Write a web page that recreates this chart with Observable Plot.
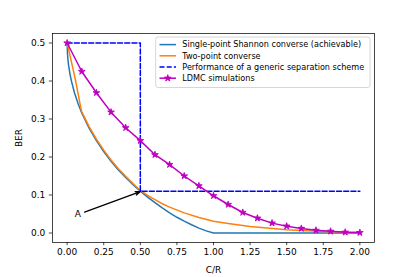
<!DOCTYPE html>
<html><head><meta charset="utf-8">
<script src="https://cdn.jsdelivr.net/npm/d3@7"></script>
<script src="https://cdn.jsdelivr.net/npm/@observablehq/plot@0.6"></script>
<style>
body{margin:0;background:#fff;}
#wrap{position:relative;width:415px;height:277px;font-family:"DejaVu Sans",sans-serif;}
#legend{position:absolute;left:0;top:0;pointer-events:none;}
</style></head><body><div id="wrap"></div>
<script>
// Data
const shannonX = [0,0.0025,0.005,0.01,0.02,0.03,0.05,0.075,0.1,0.15,0.2,0.25,0.3,0.35,0.4,0.45,0.5,0.55,0.6,0.65,0.7,0.75,0.8,0.85,0.9,0.95,1.0,1.5,2.0];
const shannonY = [0.5,0.471,0.458,0.441,0.417,0.399,0.369,0.34,0.316,0.276,0.243,0.2145,0.189,0.166,0.146,0.127,0.110,0.0946,0.0797,0.0659,0.0532,0.0414,0.0311,0.0216,0.0129,0.0056,0,0,0];
const twoPointX = [0,0.02,0.04,0.06,0.08,0.095,0.1,0.15,0.2,0.25,0.3,0.35,0.4,0.45,0.5,0.55,0.6,0.65,0.7,0.8,0.9,1.0,1.1,1.25,1.5,1.75,2.0];
const twoPointY = [0.5,0.466,0.432,0.396,0.356,0.326,0.319,0.28,0.247,0.218,0.192,0.169,0.149,0.13,0.112,0.099,0.088,0.077,0.068,0.053,0.041,0.031,0.025,0.017,0.0085,0.004,0.001];
const sepX = [0,0.5,0.5,2.0];
const sepY = [0.5,0.5,0.11,0.11];
const ldmcX = [0,0.1,0.2,0.3,0.4,0.5,0.6,0.7,0.8,0.9,1.0,1.1,1.2,1.3,1.4,1.5,1.6,1.7,1.8,1.9,2.0];
const ldmcY = [0.5,0.425,0.369,0.318,0.277,0.243,0.206,0.18,0.15,0.124,0.098,0.075,0.054,0.039,0.026,0.018,0.012,0.007,0.0045,0.002,0.001];
const seriesNames = ["Single-point Shannon converse (achievable)","Two-point converse","Performance of a generic separation scheme","LDMC simulations"];
const xTicks = [0,0.25,0.5,0.75,1.0,1.25,1.5,1.75,2.0];
const yTicks = [0,0.1,0.2,0.3,0.4,0.5];
const annLabel = ["A"];
const annTextX = [0.073], annTextY = [0.049];
const annFromX = [0.119], annFromY = [0.055];
const annToX = [0.5], annToY = [0.109];

const C0 = "#1f77b4", C1 = "#ff7f0e", CB = "#0000ff", CM = "#bf00bf";
const toRows = (xs, ys) => xs.map((x, i) => ({x, y: ys[i]}));
const shannon = toRows(shannonX, shannonY);
const twoPoint = toRows(twoPointX, twoPointY);
const sep = toRows(sepX, sepY);
const ldmc = toRows(ldmcX, ldmcY);
const ann = annLabel.map((t, i) => ({t, x: annTextX[i], y: annTextY[i], x1: annFromX[i], y1: annFromY[i], x2: annToX[i], y2: annToY[i]}));

const LW = 1.5;
const chart = Plot.plot({
  width: 415, height: 277,
  marginLeft: 52, marginRight: 41, marginTop: 33, marginBottom: 35,
  style: {fontFamily: "DejaVu Sans, sans-serif", fontSize: "9px", background: "#fff", color: "#000"},
  x: {domain: [-0.1, 2.1]},
  y: {domain: [-0.025, 0.525]},
  marks: [
    Plot.axisX({ticks: xTicks, tickFormat: d3.format(".2f"), tickSize: 3.15, tickPadding: 2.5, strokeWidth: 0.72,
      label: "C/R", labelAnchor: "center", labelArrow: "none", labelOffset: 30, fontSize: 9}),
    Plot.axisY({ticks: yTicks, tickFormat: d3.format(".1f"), tickSize: 3.15, tickPadding: 4, strokeWidth: 0.72,
      label: "BER", labelAnchor: "center", labelArrow: "none", labelOffset: 37, fontSize: 9}),
    Plot.line(shannon, {x: "x", y: "y", stroke: C0, strokeWidth: LW}),
    Plot.line(twoPoint, {x: "x", y: "y", stroke: C1, strokeWidth: LW}),
    Plot.line(sep, {x: "x", y: "y", stroke: CB, strokeWidth: LW, strokeDasharray: "5,2.2"}),
    Plot.line(ldmc, {x: "x", y: "y", stroke: CM, strokeWidth: LW}),
    Plot.dot(ldmc, {x: "x", y: "y", symbol: "star", r: 2.1, fill: CM, stroke: CM, strokeWidth: 0.9}),
    Plot.arrow(ann, {x1: "x1", y1: "y1", x2: "x2", y2: "y2", stroke: "#000", strokeWidth: 1.3, headLength: 6, headAngle: 40}),
    Plot.text(ann, {x: "x", y: "y", text: "t", fill: "#000", fontSize: 9}),
    Plot.frame({stroke: "#000", strokeWidth: 0.72})
  ]
});
const wrap = document.getElementById("wrap");
wrap.appendChild(chart);

// Legend overlay (inside axes, upper right)
const lg = d3.select(wrap).append("svg").attr("id", "legend").attr("width", 415).attr("height", 277);
lg.append("rect").attr("x", 155.7).attr("y", 37).attr("width", 214.3).attr("height", 50.5)
  .attr("rx", 2.5).attr("fill", "#fff").attr("fill-opacity", 0.8).attr("stroke", "#cccccc").attr("stroke-width", 0.8);
const legendColors = [C0, C1, CB, CM];
const legendDash = [null, null, "5,2.2", null];
seriesNames.forEach((name, i) => {
  const cy = 44.6 + i * 11.2;
  lg.append("line").attr("x1", 159.5).attr("x2", 176).attr("y1", cy).attr("y2", cy)
    .attr("stroke", legendColors[i]).attr("stroke-width", LW).attr("stroke-dasharray", legendDash[i]);
  if (i === 3) {
    lg.append("path").attr("d", d3.symbol(d3.symbolStar, Math.PI * 2.1 * 2.1)())
      .attr("transform", `translate(167.75,${cy})`).attr("fill", CM).attr("stroke", CM).attr("stroke-width", 0.9);
  }
  lg.append("text").attr("x", 182.3).attr("y", cy).attr("dy", "0.35em")
    .attr("font-family", "DejaVu Sans, sans-serif").attr("font-size", 8.1).attr("fill", "#000").text(name);
});
</script></body></html>
